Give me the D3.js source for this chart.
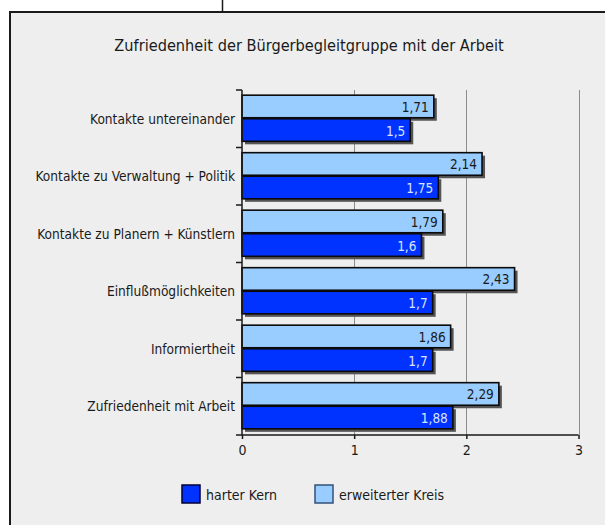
<!DOCTYPE html>
<html>
<head>
<meta charset="utf-8">
<script src="https://cdn.jsdelivr.net/npm/d3@7"></script>
<style>
  body { margin: 0; background: #fff; }
  svg text { font-family: "DejaVu Sans Condensed", "Liberation Sans Narrow", sans-serif; }
</style>
</head>
<body>
<div id="chart"></div>
<script>
// data
var categories = ["Kontakte untereinander", "Kontakte zu Verwaltung + Politik", "Kontakte zu Planern + Künstlern",
                  "Einflußmöglichkeiten", "Informiertheit", "Zufriedenheit mit Arbeit"];
var hartKern = [1.5, 1.75, 1.6, 1.7, 1.7, 1.88];
var erweitKreis = [1.71, 2.14, 1.79, 2.43, 1.86, 2.29];
var seriesNames = ["erweiterter Kreis", "harter Kern"];
var xTicks = [0, 1, 2, 3];

var W = 605, H = 525;

var svg = d3.select("#chart").append("svg")
    .attr("width", W)
    .attr("height", H);

// frame
svg.append("rect")
    .attr("x", 10).attr("y", 12)
    .attr("width", W + 10).attr("height", H + 10)
    .attr("fill", "#eeeeee")
    .attr("stroke", "#1a1a1a")
    .attr("stroke-width", 2);
svg.append("line")
    .attr("x1", 222.5).attr("x2", 222.5)
    .attr("y1", 0).attr("y2", 12)
    .attr("stroke", "#1a1a1a").attr("stroke-width", 1.5);

svg.append("text")
    .attr("x", 309).attr("y", 51)
    .attr("text-anchor", "middle")
    .attr("font-size", "16.2px")
    .attr("fill", "#1a1a1a")
    .text("Zufriedenheit der Bürgerbegleitgruppe mit der Arbeit");

var x = d3.scaleLinear().domain([0, 3]).range([242, 578.5]);
var y = d3.scaleBand().domain(categories).range([90, 435]).paddingInner(0.18).paddingOuter(0.09);
var ys = d3.scaleBand().domain(seriesNames).range([0, y.bandwidth()]);
var color = d3.scaleOrdinal().domain(seriesNames).range(["#99ccff", "#0033ff"]);
var labelColor = d3.scaleOrdinal().domain(seriesNames).range(["#1a1a1a", "#d8e4ff"]);

// grid
svg.append("g")
  .selectAll("line")
  .data(xTicks.slice(1))
  .enter().append("line")
    .attr("x1", function(d) { return Math.round(x(d)) + 0.5; })
    .attr("x2", function(d) { return Math.round(x(d)) + 0.5; })
    .attr("y1", 90).attr("y2", 435)
    .attr("stroke", "#8c8c8c").attr("stroke-width", 1);

var rows = categories.map(function(c, i) {
  return {cat: c, vals: [
    {key: "erweiterter Kreis", v: erweitKreis[i]},
    {key: "harter Kern", v: hartKern[i]}
  ]};
});

var g = svg.append("g").selectAll("g")
    .data(rows)
    .enter().append("g")
      .attr("transform", function(d) { return "translate(0," + y(d.cat) + ")"; });

// shadows
g.selectAll(".shadow")
    .data(function(d) { return d.vals; })
    .enter().append("rect")
      .attr("class", "shadow")
      .attr("x", x(0) + 3)
      .attr("y", function(d) { return ys(d.key) + 3; })
      .attr("width", function(d) { return x(d.v) - x(0); })
      .attr("height", ys.bandwidth() - 1)
      .attr("fill", "#555555");

g.selectAll(".bar")
    .data(function(d) { return d.vals; })
    .enter().append("rect")
      .attr("class", "bar")
      .attr("x", x(0))
      .attr("y", function(d) { return ys(d.key); })
      .attr("width", function(d) { return x(d.v) - x(0); })
      .attr("height", ys.bandwidth() - 1)
      .attr("fill", function(d) { return color(d.key); })
      .attr("stroke", "#0a0a0a")
      .attr("stroke-width", 1.6);

g.selectAll(".lbl")
    .data(function(d) { return d.vals; })
    .enter().append("text")
      .attr("class", "lbl")
      .attr("x", function(d) { return x(d.v) - 5; })
      .attr("y", function(d) { return ys(d.key) + ys.bandwidth() / 2 + 5; })
      .attr("text-anchor", "end")
      .attr("font-size", "13.5px")
      .attr("fill", function(d) { return labelColor(d.key); })
      .text(function(d) { return String(d.v).replace(".", ","); });

// y axis
var yAxis = svg.append("g")
    .attr("transform", "translate(" + x(0) + ",0)");
yAxis.append("line")
    .attr("x1", 0).attr("x2", 0).attr("y1", 90).attr("y2", 435)
    .attr("stroke", "#1a1a1a").attr("stroke-width", 1.5);
yAxis.selectAll(".tick")
    .data(categories)
    .enter().append("line")
      .attr("x1", -6).attr("x2", 0)
      .attr("y1", function(d) { return y(d) - y.step() * y.paddingInner() / 2; })
      .attr("y2", function(d) { return y(d) - y.step() * y.paddingInner() / 2; })
      .attr("stroke", "#1a1a1a").attr("stroke-width", 1.5);
yAxis.selectAll(".cat")
    .data(categories)
    .enter().append("text")
      .attr("x", -7)
      .attr("y", function(d) { return y(d) + y.bandwidth() / 2 + 5; })
      .attr("text-anchor", "end")
      .attr("font-size", "13.6px")
      .attr("fill", "#1a1a1a")
      .text(function(d) { return d; });

// x axis
var xAxis = svg.append("g")
    .attr("transform", "translate(0,435)")
    .style("font-family", "DejaVu Sans Condensed, Liberation Sans Narrow, sans-serif")
    .style("font-size", "14px")
    .call(d3.axisBottom(x).tickValues(xTicks).tickSize(4).tickPadding(6).tickFormat(function(d) { return d; }));
xAxis.select(".domain")
    .attr("d", "M" + (x(0) - 6) + ",0H" + x(3))
    .attr("stroke", "#1a1a1a").attr("stroke-width", 1.5);
xAxis.selectAll(".tick line").attr("stroke", "#1a1a1a").attr("stroke-width", 1.5);
xAxis.selectAll(".tick text").attr("fill", "#1a1a1a");

// legend
var legend = svg.append("g").selectAll("g")
    .data(["harter Kern", "erweiterter Kreis"])
    .enter().append("g")
      .attr("transform", function(d, i) { return "translate(" + (182 + i * 133) + ",485)"; });
legend.append("rect")
    .attr("width", 18).attr("height", 18)
    .attr("fill", function(d) { return color(d); })
    .attr("stroke", function(d, i) { return i == 0 ? "#000033" : "#33507a"; })
    .attr("stroke-width", 1.5);
legend.append("text")
    .attr("x", 24).attr("y", 15)
    .attr("font-size", "14px")
    .attr("fill", "#1a1a1a")
    .text(function(d) { return d; });
</script>
</body>
</html>
